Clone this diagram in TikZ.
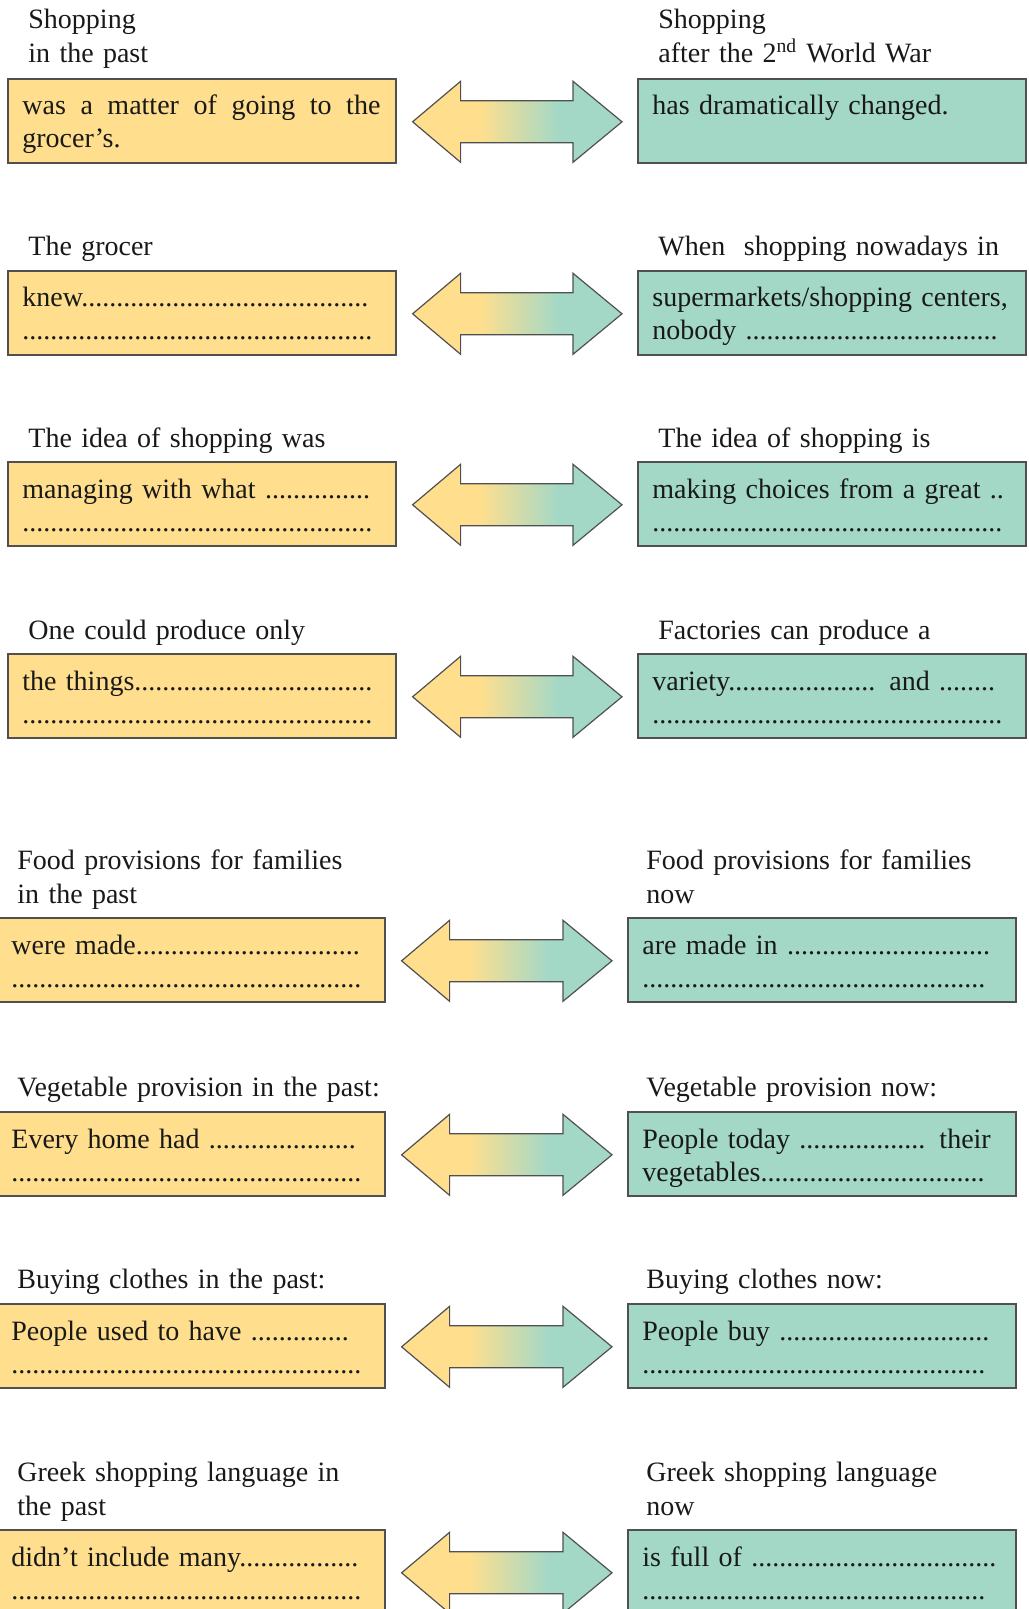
\documentclass[tikz,border=0pt]{standalone}
\usepackage{fontspec}
\setmainfont{Liberation Serif}
\usetikzlibrary{calc}
\ExplSyntaxOn
\NewDocumentCommand\dts{m}{\prg_replicate:nn{#1}{.}}
\ExplSyntaxOff
\definecolor{byel}{RGB}{255,223,142}
\definecolor{bteal}{RGB}{163,216,199}
\definecolor{bline}{RGB}{80,80,80}
\definecolor{ink}{RGB}{25,25,25}
\pgfdeclarehorizontalshading{arrowgrad}{100bp}{color(0bp)=(byel); color(41bp)=(byel); color(60bp)=(bteal); color(100bp)=(bteal)}
\tikzset{
 ybox/.style={draw=bline, line width=0.8pt, fill=byel, minimum width=194pt, minimum height=42pt, anchor=north west, inner sep=0pt},
 tbox/.style={ybox, fill=bteal},
 btext/.style={text=ink, font=\fontsize{14pt}{16.5pt}\selectfont, text width=179pt, align=left, inner sep=0pt, anchor=base west},
 jtext/.style={btext, align=justify},
 ttl/.style={text=ink, font=\fontsize{14pt}{17pt}\selectfont, text width=200pt, align=left, inner sep=0pt, anchor=base west},
 arr/.style={shading=arrowgrad, draw=bline, line width=0.6pt, line join=miter},
}
\begin{document}
\begin{tikzpicture}[x=0.5pt,y=-0.5pt]
\useasboundingbox (0,0) rectangle (1028,1609);
\clip (0,0) rectangle (1028,1609);
% Row 1
\node[ybox] (L1) at (7,78) {};
\node[tbox] (R1) at (637,78) {};
\node[ttl] (LT1) at (28,29) {Shopping\\in the past};
\node[ttl] (RT1) at (658,29) {Shopping\\after the 2\textsuperscript{nd} World War};
\node[jtext] (LX1) at ($(L1.north west)+(15,37)$) {was a matter of going to the\linebreak grocer’s.};
\node[btext] (RX1) at ($(R1.north west)+(15,37)$) {has dramatically changed.};
% Row 2
\node[ybox] (L2) at (7,270) {};
\node[tbox] (R2) at (637,270) {};
\node[ttl] (LT2) at (28,256) {The grocer};
\node[ttl] (RT2) at (658,256) {When\ \ shopping nowadays in};
\node[btext] (LX2) at ($(L2.north west)+(15,37)$) {knew\dts{41}\\\dts{50}};
\node[btext] (RX2) at ($(R2.north west)+(15,37)$) {supermarkets/shopping centers,\\nobody \dts{36}};
% Row 3
\node[ybox] (L3) at (7,461) {};
\node[tbox] (R3) at (637,461) {};
\node[ttl] (LT3) at (28,447) {The idea of shopping was};
\node[ttl] (RT3) at (658,447) {The idea of shopping is};
\node[btext] (LX3) at ($(L3.north west)+(15,37)$) {managing with what \dts{15}\\\dts{50}};
\node[btext] (RX3) at ($(R3.north west)+(15,37)$) {making choices from a great ..\\\dts{50}};
% Row 4
\node[ybox] (L4) at (7,653) {};
\node[tbox] (R4) at (637,653) {};
\node[ttl] (LT4) at (28,639) {One could produce only};
\node[ttl] (RT4) at (658,639) {Factories can produce a};
\node[btext] (LX4) at ($(L4.north west)+(15,37)$) {the things\dts{34}\\\dts{50}};
\node[btext] (RX4) at ($(R4.north west)+(15,37)$) {variety\dts{21} and \dts{8}\\\dts{50}};
% Row 5
\node[ybox] (L5) at (-4,917) {};
\node[tbox] (R5) at (627,917) {};
\node[ttl] (LT5) at (17,869) {Food provisions for families\\in the past};
\node[ttl] (RT5) at (646,869) {Food provisions for families\\now};
\node[btext] (LX5) at ($(L5.north west)+(15,37)$) {were made\dts{32}\\\dts{50}};
\node[btext] (RX5) at ($(R5.north west)+(15,37)$) {are made in \dts{29}\\\dts{49}};
% Row 6
\node[ybox] (L6) at (-4,1111) {};
\node[tbox] (R6) at (627,1111) {};
\node[ttl] (LT6) at (17,1096) {Vegetable provision in the past:};
\node[ttl] (RT6) at (646,1096) {Vegetable provision now:};
\node[btext] (LX6) at ($(L6.north west)+(15,37)$) {Every home had \dts{21}\\\dts{50}};
\node[btext] (RX6) at ($(R6.north west)+(15,37)$) {People today \dts{18} their\\vegetables\dts{32}};
% Row 7
\node[ybox] (L7) at (-4,1303) {};
\node[tbox] (R7) at (627,1303) {};
\node[ttl] (LT7) at (17,1288) {Buying clothes in the past:};
\node[ttl] (RT7) at (646,1288) {Buying clothes now:};
\node[btext] (LX7) at ($(L7.north west)+(15,37)$) {People used to have \dts{14}\\\dts{50}};
\node[btext] (RX7) at ($(R7.north west)+(15,37)$) {People buy \dts{30}\\\dts{49}};
% Row 8
\node[ybox] (L8) at (-4,1529) {};
\node[tbox] (R8) at (627,1529) {};
\node[ttl] (LT8) at (17,1481) {Greek shopping language in\\the past};
\node[ttl] (RT8) at (646,1481) {Greek shopping language\\now};
\node[btext] (LX8) at ($(L8.north west)+(15,37)$) {didn’t include many\dts{17}\\\dts{50}};
\node[btext] (RX8) at ($(R8.north west)+(15,37)$) {is full of \dts{35}\\\dts{49}};
% Arrows
\foreach \i in {1,...,8}{
  \coordinate (al\i) at ($(L\i.east)+(16,1)$);
  \coordinate (ar\i) at ($(R\i.west)+(-15,1)$);
  \shadedraw[arr] (al\i) -- ++(48,-40.5) -- ++(0,19.5) -- ($(ar\i)+(-49,-21)$) -- ++(0,-19.5) -- (ar\i)
     -- ++(-49,40.5) -- ++(0,-19.5) -- ($(al\i)+(48,21)$) -- ++(0,19.5) -- cycle;
}
\end{tikzpicture}
\end{document}
